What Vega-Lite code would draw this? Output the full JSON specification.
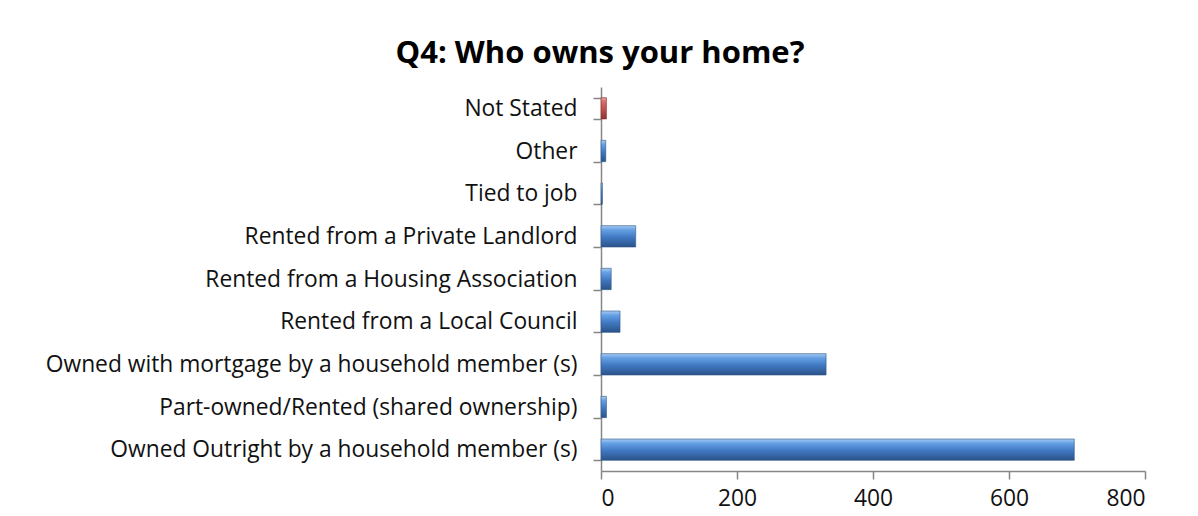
{
  "$schema": "https://vega.github.io/schema/vega-lite/v6.json",
  "autosize": "none",
  "width": 544,
  "height": 384,
  "padding": {"left": 601, "top": 87, "right": 53, "bottom": 45},
  "background": "white",
  "config": {"view": {"stroke": null}},
  "title": {
    "text": "Q4: Who owns your home?",
    "font": "Open Sans",
    "fontSize": 31,
    "fontWeight": "bold",
    "color": "#000000",
    "anchor": "middle",
    "dx": -273,
    "offset": 6
  },
  "data": {
    "values": [
      {"category": "Not Stated", "count": 8, "group": "red"},
      {"category": "Other", "count": 7, "group": "blue"},
      {"category": "Tied to job", "count": 2, "group": "blue"},
      {"category": "Rented from a Private Landlord", "count": 51, "group": "blue"},
      {"category": "Rented from a Housing Association", "count": 15, "group": "blue"},
      {"category": "Rented from a Local Council", "count": 28, "group": "blue"},
      {"category": "Owned with mortgage by a household member (s)", "count": 331, "group": "blue"},
      {"category": "Part-owned/Rented (shared ownership)", "count": 8, "group": "blue"},
      {"category": "Owned Outright by a household member (s)", "count": 696, "group": "blue"}
    ]
  },
  "encoding": {
    "y": {
      "field": "category",
      "type": "nominal",
      "sort": ["Not Stated", "Other", "Tied to job", "Rented from a Private Landlord", "Rented from a Housing Association", "Rented from a Local Council", "Owned with mortgage by a household member (s)", "Part-owned/Rented (shared ownership)", "Owned Outright by a household member (s)"],
      "scale": {"paddingInner": 0.5, "paddingOuter": 0.25},
      "axis": {
        "title": null,
        "labelFont": "Open Sans",
        "labelFontSize": 22.8,
        "labelColor": "#111111",
        "labelLimit": 700,
        "labelPadding": 16,
        "tickSize": 8,
        "tickBand": "extent",
        "tickColor": "#868686",
        "domainColor": "#868686",
        "domainWidth": 1.5,
        "tickWidth": 1.5
      }
    },
    "x": {
      "field": "count",
      "type": "quantitative",
      "scale": {"domain": [0, 800], "nice": false},
      "axis": {
        "title": null,
        "values": [0, 200, 400, 600, 800],
        "grid": false,
        "labelFont": "Open Sans",
        "labelFontSize": 22.8,
        "labelColor": "#111111",
        "labelPadding": 8,
        "tickSize": 8,
        "tickColor": "#868686",
        "domainColor": "#868686",
        "domainWidth": 1.5,
        "tickWidth": 1.5
      }
    }
  },
  "layer": [
    {
      "transform": [{"filter": "datum.group === 'blue'"}],
      "mark": {
        "type": "bar",
        "stroke": "#2B5586",
        "strokeWidth": 0.6,
        "color": {
          "gradient": "linear",
          "x1": 0, "y1": 0, "x2": 0, "y2": 1,
          "stops": [
            {"offset": 0, "color": "#A9CBF2"},
            {"offset": 0.2, "color": "#64A0E4"},
            {"offset": 0.55, "color": "#4178C2"},
            {"offset": 1, "color": "#2A5389"}
          ]
        }
      }
    },
    {
      "transform": [{"filter": "datum.group === 'red'"}],
      "mark": {
        "type": "bar",
        "stroke": "#8A3230",
        "strokeWidth": 0.6,
        "color": {
          "gradient": "linear",
          "x1": 0, "y1": 0, "x2": 0, "y2": 1,
          "stops": [
            {"offset": 0, "color": "#E8A09E"},
            {"offset": 0.2, "color": "#D46A67"},
            {"offset": 0.55, "color": "#C0504D"},
            {"offset": 1, "color": "#8E3431"}
          ]
        }
      }
    }
  ]
}
